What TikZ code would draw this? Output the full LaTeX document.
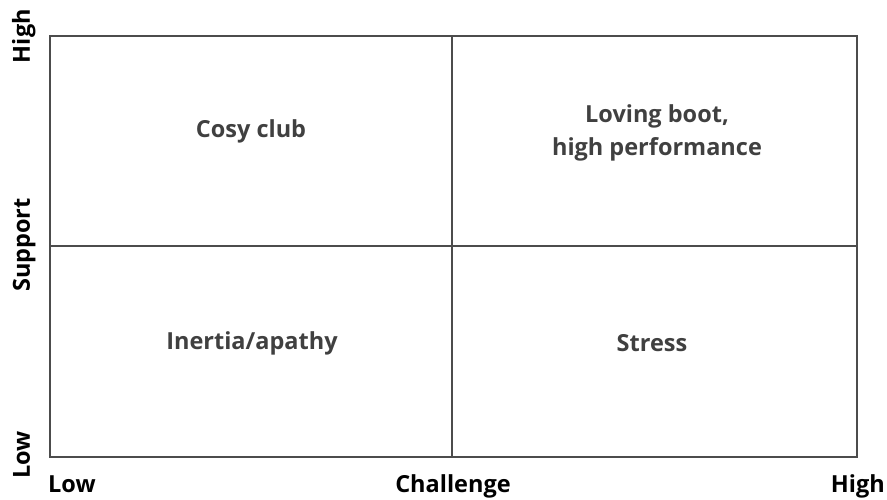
\documentclass[tikz,border=0pt]{standalone}
\usepackage{fontspec}
\setmainfont{Open Sans}
\begin{document}
\begin{tikzpicture}[x=1pt,y=-1pt,
  frameline/.style={draw=black!70,line width=2.8pt},
  quad/.style={font=\fontsize{23.5}{33}\selectfont\bfseries,text=black!75,align=center},
  axislab/.style={font=\fontsize{23.5}{26}\selectfont\bfseries,text=black,inner sep=0pt}]
\useasboundingbox (0,0) rectangle (887,499);
\coordinate (tl) at (50,36);
\coordinate (br) at (857,457);
\coordinate (tm) at (452,36);
\coordinate (bm) at (452,457);
\coordinate (ml) at (50,246);
\coordinate (mr) at (857,246);
\draw[frameline] (tl) rectangle (br);
\draw[frameline] (tm) -- (bm);
\draw[frameline] (ml) -- (mr);
\node[quad] (cosy) at (251,131) {Cosy club};
\node[quad] (loving) at (657,133) {Loving boot,\\high performance};
\node[quad] (inertia) at (252,343) {Inertia/apathy};
\node[quad] (stress) at (652,343) {Stress};
\node[axislab,anchor=base west] (xlow) at (48,492) {Low};
\node[axislab,anchor=base] (xmid) at (453,492) {Challenge};
\node[axislab,anchor=base east] (xhigh) at (885,492) {High};
\node[axislab,rotate=90,anchor=base east] (yhigh) at (30,9) {High};
\node[axislab,rotate=90,anchor=base] (ymid) at (30,245) {Support};
\node[axislab,rotate=90,anchor=base west] (ylow) at (30,479) {Low};
\end{tikzpicture}
\end{document}
